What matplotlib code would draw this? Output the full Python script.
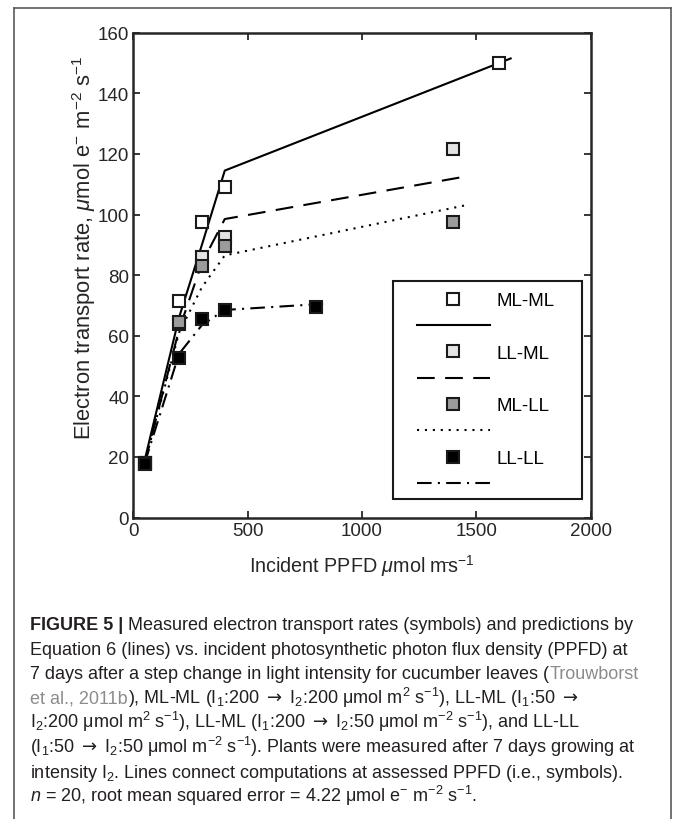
import matplotlib
matplotlib.use("Agg")
import matplotlib.pyplot as plt
from matplotlib.lines import Line2D
from matplotlib.patches import Rectangle

plt.rcParams['font.family'] = ['Liberation Sans', 'DejaVu Sans']
plt.rcParams['mathtext.fontset'] = 'custom'
plt.rcParams['mathtext.rm'] = 'Liberation Sans'
plt.rcParams['mathtext.it'] = 'Liberation Sans:italic'
plt.rcParams['mathtext.bf'] = 'Liberation Sans:bold'
plt.rcParams['mathtext.sf'] = 'DejaVu Sans'

# measured ETR (symbols)
ppfd_ml_ml = [50, 200, 300, 400, 1600]
etr_ml_ml = [18, 71.5, 97.5, 109, 150]
ppfd_ll_ml = [50, 200, 300, 400, 1400]
etr_ll_ml = [18, 64, 86, 92.5, 121.5]
ppfd_ml_ll = [50, 200, 300, 400, 1400]
etr_ml_ll = [18, 64.5, 83, 89.5, 97.5]
ppfd_ll_ll = [50, 200, 300, 400, 800]
etr_ll_ll = [17.5, 52.5, 65.5, 68.5, 69.5]

# model predictions (lines)
mod_x_ml_ml = [50, 200, 300, 400, 1650]
mod_y_ml_ml = [19, 66, 90, 114.5, 151.5]
mod_x_ll_ml = [50, 200, 300, 400, 1450]
mod_y_ll_ml = [18, 62, 84, 98.5, 112.5]
mod_x_ml_ll = [50, 200, 300, 400, 1450]
mod_y_ml_ll = [18, 61, 76, 86.5, 103]
mod_x_ll_ll = [50, 200, 300, 400, 830]
mod_y_ll_ll = [18, 54, 63.5, 68.5, 70.5]

names = ["ML-ML", "LL-ML", "ML-LL", "LL-LL"]
face = ["white", "#e4e4e4", "#9c9c9c", "black"]
styles = ["-", (0, (8.5, 5)), (0, (1, 2.8)), (0, (7, 3, 1, 3))]

W, H = 674, 820
fig = plt.figure(figsize=(W / 100, H / 100), dpi=100)

# outer frame (open at the bottom)
fc = "#5a5a5a"
fig.add_artist(Line2D([14 / W, 14 / W], [0, 1 - 9 / H], color=fc, lw=1.2))
fig.add_artist(Line2D([14 / W, 671 / W], [1 - 9 / H, 1 - 9 / H], color=fc, lw=1.2))
fig.add_artist(Line2D([671 / W, 671 / W], [0, 1 - 9 / H], color=fc, lw=1.2))

ax = fig.add_axes([133.3 / W, 1 - 518.5 / H, 457.4 / W, 484.8 / H])

lines_x = [mod_x_ml_ml, mod_x_ll_ml, mod_x_ml_ll, mod_x_ll_ll]
lines_y = [mod_y_ml_ml, mod_y_ll_ml, mod_y_ml_ll, mod_y_ll_ll]
pts_x = [ppfd_ml_ml, ppfd_ll_ml, ppfd_ml_ll, ppfd_ll_ll]
pts_y = [etr_ml_ml, etr_ll_ml, etr_ml_ll, etr_ll_ll]

for i in range(4):
    ax.plot(lines_x[i], lines_y[i], color="black", lw=1.5, ls=styles[i], zorder=2)
for i in range(4):
    ax.plot(pts_x[i], pts_y[i], ls="none", marker="s", ms=8, mfc=face[i],
            mec="#1a1a1a", mew=1.5, zorder=3)

ax.set_xlim(0, 2000)
ax.set_ylim(0, 160)
ax.set_xticks([0, 500, 1000, 1500, 2000])
ax.set_yticks(range(0, 161, 20))
ax.tick_params(direction="in", length=5, width=1.3, top=True, right=True,
               labelsize=13.5, colors="#262626", pad=3)
for s in ax.spines.values():
    s.set_linewidth(1.8)
    s.set_color("#262626")

ax.set_xlabel(r"Incident PPFD $\mu$mol m$^{\bar{}}$s$^{-1}$", fontsize=14.2, color="#262626")
ax.set_ylabel(r"Electron transport rate, $\mu$mol e$^{-}$ m$^{-2}$ s$^{-1}$", fontsize=15.8,
              color="#262626")
ax.xaxis.set_label_coords(0.5, -0.072)
ax.yaxis.set_label_coords(-0.078, 0.558)

# legend: box drawn separately, entries placed inside
ax.add_patch(Rectangle((0.568, 0.038), 0.412, 0.450, transform=ax.transAxes,
                       facecolor="white", edgecolor="#1a1a1a", lw=1.5, zorder=4))
handles, labels = [], []
for i in range(4):
    handles.append(Line2D([], [], ls="none", marker="s", ms=8, mfc=face[i],
                          mec="#1a1a1a", mew=1.5))
    labels.append(names[i])
    handles.append(Line2D([], [], color="black", lw=1.5, ls=styles[i]))
    labels.append("")
leg = ax.legend(handles, labels, loc="upper left", bbox_to_anchor=(0.620, 0.465),
                frameon=False, borderpad=0, borderaxespad=0, numpoints=1,
                handlelength=3.9, handletextpad=0.37, labelspacing=0.49,
                fontsize=13.5)
leg.set_zorder(5)

# caption
cap_col = "#231f20"
link_col = "#8c8c8c"
cs = 13.0
x0 = 30
base0 = 630
step = 24.6
arr = r"$\mathsf{\rightarrow}$"


def yb(i):
    return H - (base0 + i * step)


def after(prev, s, i, color=cap_col, weight="normal"):
    return plt.annotate(
        s, xy=(1, yb(i)), xycoords=(prev, "figure pixels"), fontsize=cs,
        color=color, weight=weight, va="baseline", ha="left", annotation_clip=False)


t = fig.text(x0 / W, yb(0) / H, "FIGURE 5 |", fontsize=cs, weight="bold", color=cap_col,
             va="baseline")
after(t, " Measured electron transport rates (symbols) and predictions by", 0)
fig.text(x0 / W, yb(1) / H,
         "Equation 6 (lines) vs. incident photosynthetic photon flux density (PPFD) at",
         fontsize=cs, color=cap_col, va="baseline")
t = fig.text(x0 / W, yb(2) / H,
             "7 days after a step change in light intensity for cucumber leaves (",
             fontsize=cs, color=cap_col, va="baseline")
after(t, "Trouwborst", 2, color=link_col)
t = fig.text(x0 / W, yb(3) / H, "et al., 2011b", fontsize=cs, color=link_col, va="baseline")
after(t, r"), ML-ML (I$_1$:200 " + arr + r" I$_2$:200 μmol m$^2$ s$^{-1}$), LL-ML (I$_1$:50 " + arr, 3)
fig.text(x0 / W, yb(4) / H,
         r"I$_2$:200 μmol m$^2$ s$^{-1}$), LL-ML (I$_1$:200 " + arr
         + r" I$_2$:50 μmol m$^{-2}$ s$^{-1}$), and LL-LL",
         fontsize=cs, color=cap_col, va="baseline")
fig.text(x0 / W, yb(5) / H,
         r"(I$_1$:50 " + arr + r" I$_2$:50 μmol m$^{-2}$ s$^{-1}$). Plants were measured after 7 days growing at",
         fontsize=cs, color=cap_col, va="baseline")
fig.text(x0 / W, yb(6) / H,
         r"intensity I$_2$. Lines connect computations at assessed PPFD (i.e., symbols).",
         fontsize=cs, color=cap_col, va="baseline")
fig.text(x0 / W, yb(7) / H,
         r"$n$ = 20, root mean squared error = 4.22 μmol e$^{-}$ m$^{-2}$ s$^{-1}$.",
         fontsize=cs, color=cap_col, va="baseline")

fig.savefig("out.png", dpi=100)
